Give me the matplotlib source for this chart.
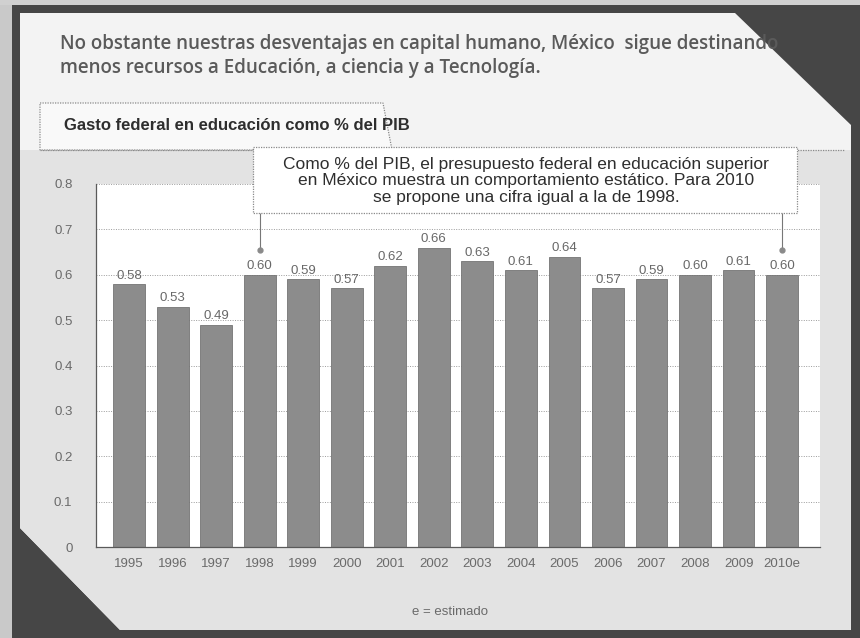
import matplotlib
matplotlib.use('Agg')
import matplotlib.pyplot as plt
from matplotlib.patches import Polygon, Rectangle

# Data
years = ['1995', '1996', '1997', '1998', '1999', '2000', '2001', '2002',
         '2003', '2004', '2005', '2006', '2007', '2008', '2009', '2010e']
gasto_pib = [0.58, 0.53, 0.49, 0.60, 0.59, 0.57, 0.62, 0.66,
             0.63, 0.61, 0.64, 0.57, 0.59, 0.60, 0.61, 0.60]
y_ticks = [0, 0.1, 0.2, 0.3, 0.4, 0.5, 0.6, 0.7, 0.8]
y_tick_labels = ['0', '0.1', '0.2', '0.3', '0.4', '0.5', '0.6', '0.7', '0.8']
marked_bars = [3, 15]   # 1998 and 2010e, joined to the note

header = ('No obstante nuestras desventajas en capital humano, México  sigue destinando\n'
          'menos recursos a Educación, a ciencia y a Tecnología.')
title = 'Gasto federal en educación como % del PIB'
note = ('Como % del PIB, el presupuesto federal en educación superior\n'
        'en México muestra un comportamiento estático. Para 2010\n'
        'se propone una cifra igual a la de 1998.')
footnote = 'e = estimado'

W, H = 860, 638
fig = plt.figure(figsize=(W / 100, H / 100), dpi=100, facecolor='#464646')

# background layer in pixel coordinates
bg = fig.add_axes([0, 0, 1, 1], zorder=0)
bg.set_xlim(0, W)
bg.set_ylim(H, 0)
bg.axis('off')

bg.add_patch(Rectangle((0, 0), 12, H, color='#c9c9c9', lw=0))
bg.add_patch(Rectangle((0, 0), W, 5, color='#d0d0d0', lw=0))

card = Polygon([(20, 13), (735, 13), (851, 125), (851, 630), (120, 630), (20, 528)],
               closed=True, facecolor='#f3f3f3', edgecolor='none')
bg.add_patch(card)
panel = Rectangle((20, 150), 840, 490, facecolor='#e3e3e3', edgecolor='none')
bg.add_patch(panel)
panel.set_clip_path(card)

# title box with slanted right edge
tbox = Polygon([(40, 103), (383, 103), (392, 150), (40, 150)], closed=True,
               facecolor='#f9f9f9', edgecolor='#8a8a8a', lw=0.9, ls=(0, (1, 1)))
bg.add_patch(tbox)
bg.plot([40, 845], [150, 150], color='#8a8a8a', lw=0.9, ls=(0, (1, 1)))

# header is cut by the card corner, as in the scan
hdr = bg.text(60, 56, header, fontsize=13.5, fontweight='semibold', family='Open Sans',
              color='#5a5a5a', va='center', ha='left', linespacing=1.25, clip_on=True)
hdr.set_clip_path(card)
bg.text(64, 126, title, fontsize=12, fontweight='bold', family='Liberation Sans',
        color='#2e2e2e', va='center', ha='left')
bg.text(450, 612, footnote, fontsize=9.5, family='Liberation Sans', color='#6a6a6a',
        ha='center', va='center')

# chart
ax = fig.add_axes([96 / W, 1 - 547 / H, (820 - 96) / W, (547 - 184) / H], zorder=1)
ax.set_facecolor('white')
xs = list(range(len(years)))
ax.bar(xs, gasto_pib, width=0.73, color='#8c8c8c', edgecolor='#747474', lw=0.6, zorder=2)
for x, v in zip(xs, gasto_pib):
    ax.text(x, v + 0.005, f'{v:.2f}', ha='center', va='bottom', fontsize=9.5,
            family='Liberation Sans', color='#686868', zorder=3)
for i in marked_bars:
    ax.plot([i, i], [0.655, 0.76], color='#777777', lw=0.8, clip_on=False, zorder=3)
    ax.plot(i, 0.655, 'o', ms=3.5, color='#8a8a8a', clip_on=False, zorder=3)

ax.set_xlim(-0.76, 15.87)
ax.set_ylim(0, 0.8)
ax.set_yticks(y_ticks)
ax.set_yticklabels(y_tick_labels)
ax.set_xticks(xs)
ax.set_xticklabels(years)
ax.tick_params(axis='both', length=0, labelsize=9.5, labelcolor='#6a6a6a')
ax.tick_params(axis='y', pad=17)
ax.tick_params(axis='x', pad=8)
for lab in ax.get_xticklabels() + ax.get_yticklabels():
    lab.set_family('Liberation Sans')
ax.grid(axis='y', color='#9a9a9a', lw=0.7, ls=(0, (1, 1.5)), zorder=1)
ax.set_axisbelow(True)
for s in ['top', 'right']:
    ax.spines[s].set_visible(False)
for s in ['left', 'bottom']:
    ax.spines[s].set_color('#5a5a5a')
    ax.spines[s].set_linewidth(0.9)

# note box over the top of the chart
ov = fig.add_axes([0, 0, 1, 1], zorder=2)
ov.set_xlim(0, W)
ov.set_ylim(H, 0)
ov.axis('off')
ov.patch.set_alpha(0)
ov.add_patch(Rectangle((253, 147), 797 - 253, 213 - 147, facecolor='white',
                       edgecolor='#8a8a8a', lw=0.9, ls=(0, (1, 1))))
ov.text(526, 181, note, fontsize=12.5, family='Liberation Sans', color='#2e2e2e',
        ha='center', va='center', linespacing=1.1)

fig.savefig('out.png', dpi=100, facecolor=fig.get_facecolor())
